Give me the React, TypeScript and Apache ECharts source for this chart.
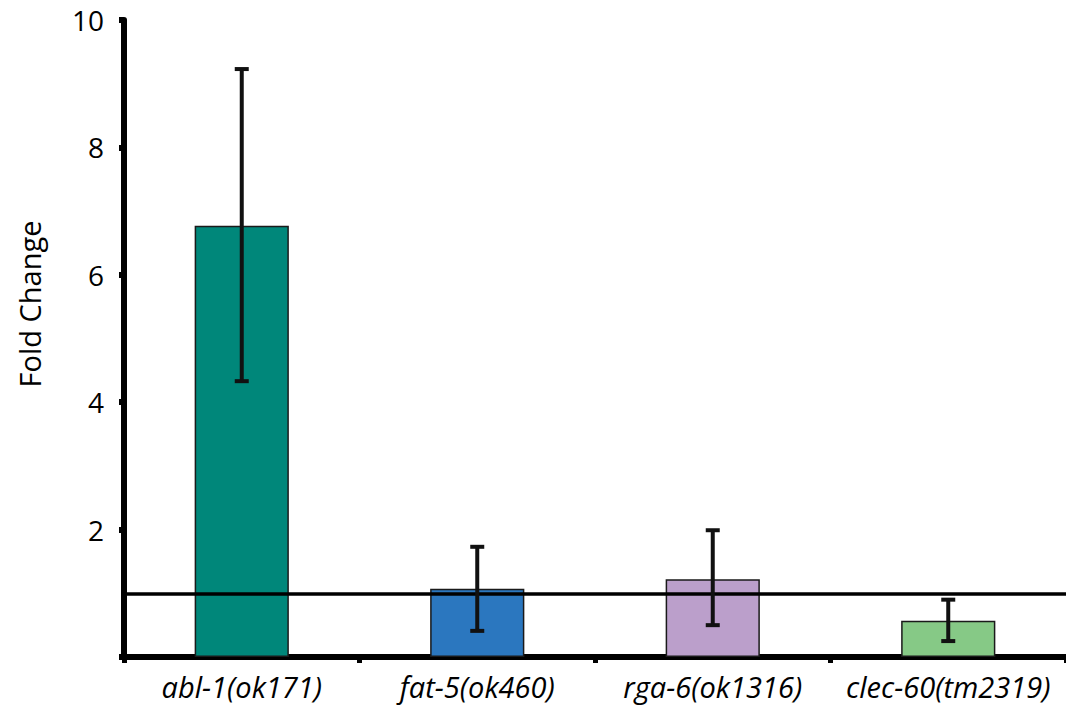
import React, { useEffect, useRef } from "react";
import * as echarts from "echarts";

const categories = ["abl-1(ok171)", "fat-5(ok460)", "rga-6(ok1316)", "clec-60(tm2319)"];
const foldChange = [6.77, 1.07, 1.22, 0.57];
const errLow = [4.33, 0.41, 0.5, 0.25];
const errHigh = [9.23, 1.73, 1.99, 0.9];
const barColors = ["#00877a", "#2b77bf", "#bb9fcb", "#86c986"];
const yTicks = [0, 2, 4, 6, 8, 10];
const baseline = 1;

const FONT = "'Open Sans', 'Noto Sans', sans-serif";

export default function App() {
  const ref = useRef<HTMLDivElement>(null);
  useEffect(() => {
    document.body.style.margin = "0";
    const chart = echarts.init(ref.current!, null, { renderer: "svg" });
    chart.setOption({
      animation: false,
      grid: { left: 124, right: 0, top: 20, bottom: 56 },
      xAxis: {
        type: "category",
        data: categories,
        axisLine: { lineStyle: { color: "#000", width: 6 } },
        axisTick: { show: true, interval: 0, length: 6, lineStyle: { color: "#000", width: 5 } },
        axisLabel: {
          interval: 0,
          color: "#000",
          fontSize: 29,
          fontStyle: "italic",
          fontFamily: FONT,
          margin: 15,
        },
      },
      yAxis: {
        type: "value",
        min: yTicks[0],
        max: yTicks[yTicks.length - 1],
        interval: 2,
        splitLine: { show: false },
        axisLine: { show: true, lineStyle: { color: "#000", width: 6 } },
        axisTick: { show: true, length: 5, lineStyle: { color: "#000", width: 6 } },
        axisLabel: {
          color: "#000",
          fontSize: 28,
          fontFamily: FONT,
          margin: 20,
          formatter: (v: number) => (v === 0 ? "" : String(v)),
        },
      },
      graphic: [
        {
          type: "text",
          x: 29,
          y: 304,
          rotation: Math.PI / 2,
          style: {
            text: "Fold Change",
            fontSize: 29,
            fontFamily: FONT,
            fill: "#000",
            align: "center",
            verticalAlign: "middle",
          },
        },
      ],
      series: [
        {
          type: "bar",
          barWidth: "40%",
          data: foldChange.map((v, i) => ({
            value: v,
            itemStyle: { color: barColors[i], borderColor: "#1a1a1a", borderWidth: 1.5 },
          })),
          markLine: {
            silent: true,
            symbol: "none",
            label: { show: false },
            lineStyle: { color: "#000", width: 3.5, type: "solid" },
            data: [{ yAxis: baseline }],
          },
          z: 2,
        },
        {
          type: "custom",
          z: 5,
          data: categories.map((_, i) => [i, errLow[i], errHigh[i]]),
          renderItem: (params: any, api: any) => {
            const x = api.value(0);
            const lo = api.coord([x, api.value(1)]);
            const hi = api.coord([x, api.value(2)]);
            const cap = 7;
            const style = { stroke: "#111", lineWidth: 4 };
            return {
              type: "group",
              children: [
                { type: "line", shape: { x1: lo[0], y1: lo[1], x2: hi[0], y2: hi[1] }, style },
                { type: "line", shape: { x1: lo[0] - cap, y1: lo[1], x2: lo[0] + cap, y2: lo[1] }, style },
                { type: "line", shape: { x1: hi[0] - cap, y1: hi[1], x2: hi[0] + cap, y2: hi[1] }, style },
              ],
            };
          },
        },
      ],
    });
    return () => chart.dispose();
  }, []);
  return <div ref={ref} style={{ width: 1066, height: 713 }} />;
}
